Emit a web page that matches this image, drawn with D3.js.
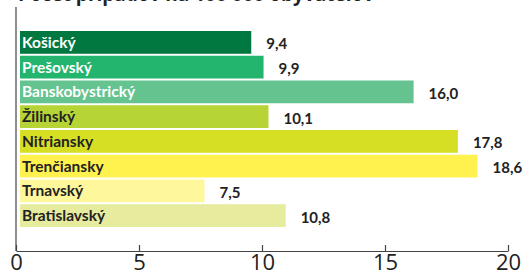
<!DOCTYPE html>
<html><head><meta charset="utf-8">
<script src="https://cdn.jsdelivr.net/npm/d3@7"></script>
<style>body{margin:0;background:#fff}svg{display:block}</style>
</head><body>
<svg id="c" width="523" height="273"></svg>
<script>
const categories = ["Košický","Prešovský","Banskobystrický","Žilinský","Nitriansky","Trenčiansky","Trnavský","Bratislavský"];
const values = [9.4,9.9,16.0,10.1,17.8,18.6,7.5,10.8];
const colors = ["#00783f","#23b46d","#64c38f","#b6d435","#d7df24","#fff24f","#fff79c","#e7eb9d"];
const labelColors = ["#fff","#fff","#fff","#222","#222","#222","#222","#222"];
const ticks = [0,5,10,15,20];
const title = "Počet prípadov na 100 000 obyvateľov";

const svg = d3.select("#c");
const x = d3.scaleLinear().domain([0,20]).range([16,508]);
const y = d3.scaleBand().domain(categories).range([31,227]).paddingInner(0.08).paddingOuter(0);

svg.append("text").attr("x",18).attr("y",1).attr("font-family","Open Sans").attr("font-weight","bold")
  .attr("font-size",19).attr("fill","#222").text(title);

const off = 4;
const g = svg.append("g");
g.selectAll("rect").data(categories).join("rect")
  .attr("x", x(0)+off).attr("y", d=>y(d))
  .attr("width",(d,i)=>x(values[i])-x(0)).attr("height",y.bandwidth())
  .attr("fill",(d,i)=>colors[i]);

g.selectAll("text.lab").data(categories).join("text").attr("class","lab")
  .attr("x", x(0)+off+2).attr("y", d=>y(d)+y.bandwidth()/2+5.5)
  .attr("font-family","Lato").attr("font-weight","bold").attr("font-size",15.5)
  .attr("fill",(d,i)=>labelColors[i]).text(d=>d);

g.selectAll("text.val").data(categories).join("text").attr("class","val")
  .attr("x",(d,i)=>x(values[i])+off+15).attr("y", d=>y(d)+y.bandwidth()/2+7)
  .attr("font-family","Lato").attr("font-weight","bold").attr("font-size",15)
  .attr("fill","#222").text((d,i)=>d3.format(".1f")(values[i]).replace(".",","));

const axis = d3.axisBottom(x).tickValues(ticks).tickSize(-6).tickPadding(8).tickSizeOuter(0);
const ag = svg.append("g").attr("transform","translate(0,251)").call(axis);
ag.select(".domain").attr("stroke","#444").attr("stroke-width",1.2);
ag.selectAll(".tick line").attr("stroke","#444").attr("stroke-width",1.2);
ag.selectAll(".tick text").attr("font-family","Open Sans").attr("font-size",22).attr("fill","#222").attr("dy","0.5em");
svg.append("line").attr("x1",x(0)).attr("x2",x(0)).attr("y1",7).attr("y2",251).attr("stroke","#444").attr("stroke-width",1.2);
</script>
</body></html>
